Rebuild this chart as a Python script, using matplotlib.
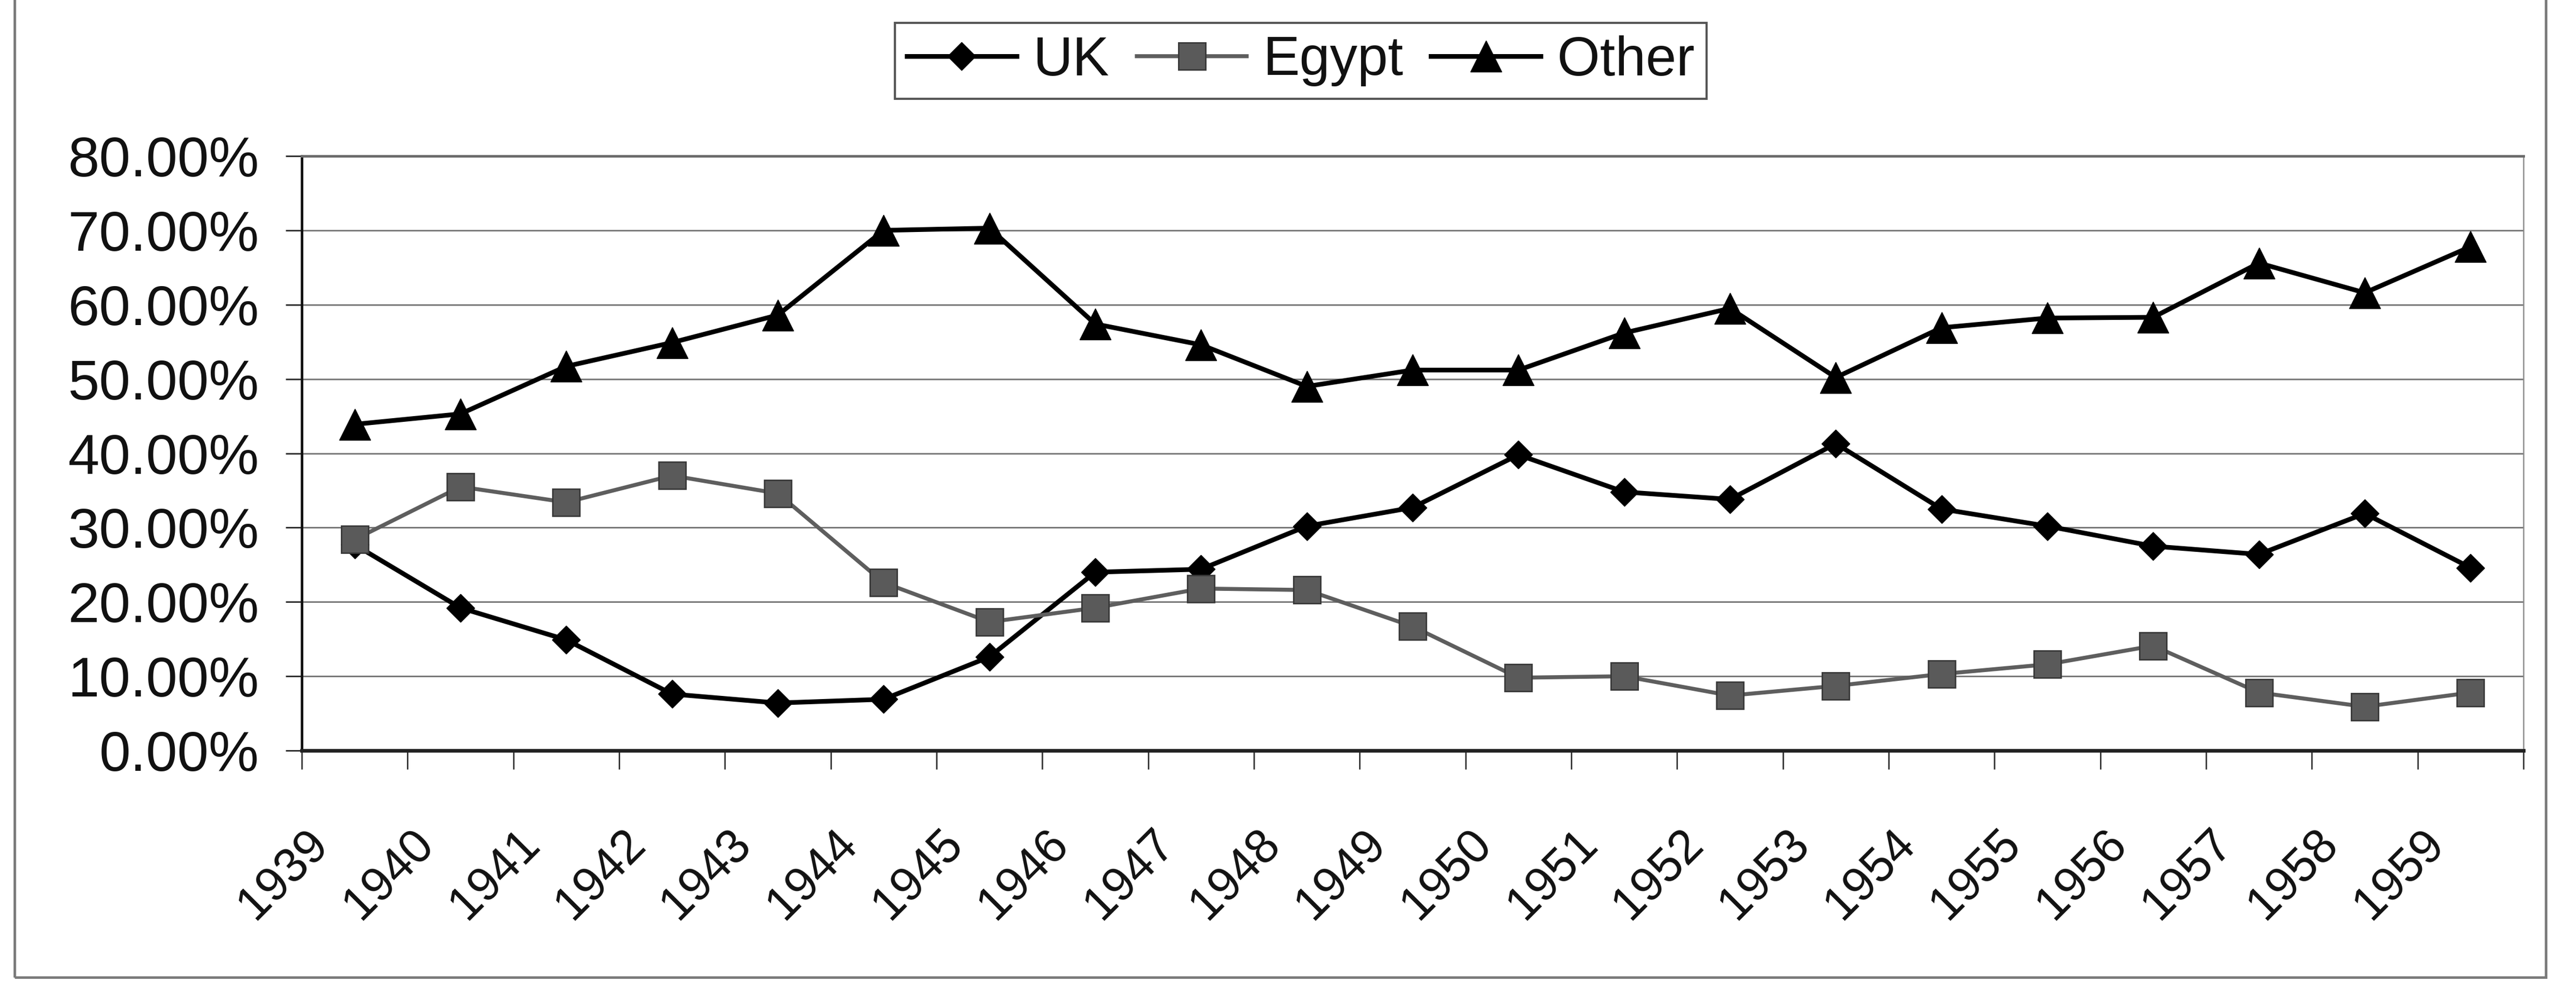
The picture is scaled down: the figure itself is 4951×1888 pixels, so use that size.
import matplotlib
matplotlib.use("Agg")
import matplotlib.pyplot as plt
from matplotlib.ticker import FixedLocator, FuncFormatter, NullFormatter
from matplotlib.transforms import ScaledTranslation
from matplotlib.patches import Rectangle

plt.rcParams['font.family'] = ['Liberation Sans', 'DejaVu Sans']

# Share of total by destination, percent
years = [str(y) for y in range(1939, 1960)]
uk = [27.7, 19.2, 14.9, 7.6, 6.4, 6.9, 12.6, 24.0, 24.4, 30.2, 32.7, 39.8, 34.8, 33.8, 41.3, 32.5, 30.2, 27.5, 26.4, 31.9, 24.6]
egypt = [28.4, 35.5, 33.4, 37.0, 34.6, 22.6, 17.3, 19.2, 21.8, 21.6, 16.7, 9.8, 10.0, 7.4, 8.7, 10.3, 11.6, 14.1, 7.8, 5.9, 7.8]
other = [43.9, 45.3, 51.7, 54.9, 58.6, 70.0, 70.3, 57.4, 54.6, 49.0, 51.2, 51.2, 56.2, 59.5, 50.2, 56.9, 58.2, 58.3, 65.6, 61.6, 67.8]
y_ticks = [0, 10, 20, 30, 40, 50, 60, 70, 80]

W, H, DPI = 4951, 1888, 100
fig = plt.figure(figsize=(W / DPI, H / DPI), dpi=DPI, facecolor='white')

ax_left, ax_right, ax_top, ax_bottom = 580, 4850, 300, 1443
ax = fig.add_axes([ax_left / W, 1 - ax_bottom / H,
                   (ax_right - ax_left) / W, (ax_bottom - ax_top) / H])

x = list(range(len(years)))
ax.plot(x, uk, color='black', lw=6.5, marker='D', markersize=28,
        markerfacecolor='black', markeredgecolor='black', label='UK', zorder=3)
ax.plot(x, egypt, color='#5e5e5e', lw=5.5, marker='s', markersize=38,
        markerfacecolor='#5a5a5a', markeredgecolor='#383838', markeredgewidth=2,
        label='Egypt', zorder=4)
ax.plot(x, other, color='black', lw=6.5, marker='^', markersize=43,
        markerfacecolor='black', markeredgecolor='black', label='Other', zorder=5)

ax.set_xlim(-0.5, len(years) - 0.5)
ax.set_ylim(0, 80)

# y axis: percentage labels and horizontal gridlines
ax.yaxis.set_major_locator(FixedLocator(y_ticks))
ax.yaxis.set_major_formatter(FuncFormatter(lambda v, p: f"{v:.2f}%"))
ax.yaxis.grid(True, color='#7a7a7a', lw=2.2)
ax.set_axisbelow(True)
ax.tick_params(axis='y', which='major', direction='out', length=22, width=2.2,
               color='#333333', pad=37, labelsize=78, labelcolor='#111111')

# x axis: ticks between categories, labels centred on categories
ax.xaxis.set_major_locator(FixedLocator([i - 0.5 for i in range(len(years) + 1)]))
ax.xaxis.set_major_formatter(NullFormatter())
ax.xaxis.set_minor_locator(FixedLocator(x))
ax.set_xticklabels(years, minor=True, rotation=45, ha='right', va='top')
ax.tick_params(axis='x', which='major', direction='out', length=26, width=2,
               color='#333333')
ax.tick_params(axis='x', which='minor', length=0, pad=98, labelsize=66,
               labelcolor='#111111')
shift = ScaledTranslation(-35 / DPI, 0, fig.dpi_scale_trans)
for lab in ax.get_xticklabels(minor=True):
    lab.set_transform(lab.get_transform() + shift)

ax.spines['left'].set_color('#111111')
ax.spines['left'].set_linewidth(3.5)
ax.spines['bottom'].set_color('#222222')
ax.spines['bottom'].set_linewidth(5)
ax.spines['top'].set_color('#6a6a6a')
ax.spines['top'].set_linewidth(3.5)
ax.spines['right'].set_color('#8a8a8a')
ax.spines['right'].set_linewidth(1.8)

leg = fig.legend(loc='center', bbox_to_anchor=(2500 / W, 1 - 117 / H), ncol=3,
                 fontsize=76, frameon=True, fancybox=False, handlelength=2.0,
                 handletextpad=0.3, columnspacing=0.5, borderpad=0.22,
                 borderaxespad=0)
leg.get_frame().set_edgecolor('#2a2a2a')
leg.get_frame().set_linewidth(3)
for t in leg.get_texts():
    t.set_color('#111111')

# outer chart border
fig.patches.append(Rectangle((28 / W, 1 - 1879 / H), (4893 - 28) / W, 1879 / H + 0.02,
                             transform=fig.transFigure, fill=False,
                             edgecolor='#7a7a7a', lw=3.5, zorder=0))

fig.savefig('out.png', dpi=DPI, facecolor='white')
